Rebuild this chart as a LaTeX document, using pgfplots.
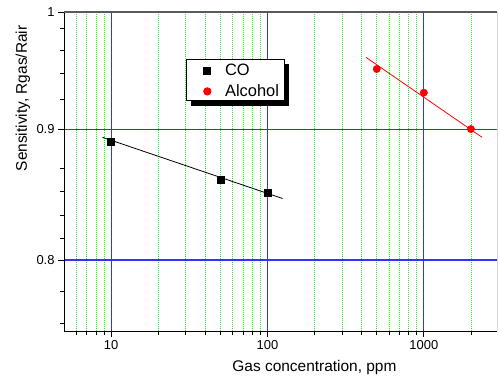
\documentclass[border=0pt]{standalone}
\usepackage{pgfplots}
\pgfplotsset{compat=1.18}
\usepackage{fontspec}
\setmainfont{Liberation Sans}
\usetikzlibrary{shadows}
\definecolor{gridblue}{RGB}{50,50,255}
\definecolor{gridgreen}{RGB}{40,230,40}
\pgfplotsset{mylegimg/.style={legend image code/.code={\draw[##1] plot coordinates {(0bp,5bp)};}}}
\begin{document}
\begin{tikzpicture}
\path[use as bounding box] (-64bp,-45bp) rectangle (434bp,331bp);
\begin{axis}[
  at={(0,0)}, anchor=south west,
  scale only axis, width=433.3bp, height=319bp,
  xmode=log, ymode=log,
  xmin=5, xmax=2950, ymin=0.7505, ymax=1,
  xtick={10,100,1000}, xticklabels={10,100,1000},
  ytick={0.8,0.9,1}, yticklabels={0.8,0.9,1},
  minor xtick={6,7,8,9,20,30,40,50,60,70,80,90,200,300,400,500,600,700,800,900,2000},
  minor ytick={0.756,0.778,0.816,0.833,0.851,0.869,0.924,0.946,0.966,0.985},
  xmajorgrids, xminorgrids, ymajorgrids,
  every major grid/.style={draw=gridblue, line width=1.1bp, solid},
  every minor grid/.style={draw=gridgreen, dash pattern=on 1bp off 1bp, line width=0.8bp},
  axis lines*=left,
  tick align=outside,
  major tick length=6bp, minor tick length=4bp,
  every tick/.style={draw=black, line width=0.8bp},
  axis line style={draw=black, line width=1bp, -},
  tick label style={font=\fontsize{13}{15}\selectfont},
  xlabel={Gas concentration, ppm},
  ylabel={Sensitivity, Rgas/Rair},
  label style={font=\fontsize{15.5}{18}\selectfont},
  xlabel style={at={(axis description cs:0.578,-0.115)}, anchor=center},
  ylabel style={at={(axis description cs:-0.095,0.729)}, anchor=center},
  legend style={at={(axis description cs:0.281,0.853)}, anchor=north west,
    draw=black, fill=white, line width=0.8bp,
    general shadow={fill=black, shadow xshift=5bp, shadow yshift=-5bp},
    font=\fontsize{16.5}{19}\selectfont,
    inner xsep=17.5bp, inner ysep=4.4bp, row sep=8.7bp, column sep=14bp,
    nodes={inner sep=0pt, text height=12bp, text depth=0bp, anchor=base west}},
  legend cell align=left,
]
\addplot[black, line width=0.8bp, forget plot] coordinates {(8.8,0.8934) (125,0.8455)};
\addplot[red, line width=0.8bp, forget plot] coordinates {(427,0.9600) (2355,0.8934)};
\addplot[only marks, mark=square*, mark size=3.5bp, black, mylegimg]
  coordinates {(10,0.890) (50,0.860) (100,0.850)};
\addlegendentry{CO\hspace*{-12bp}\mbox{}}
\addplot[only marks, mark=*, mark size=3.7bp, red, mark options={fill=red, draw=red}, mylegimg]
  coordinates {(500,0.950) (1000,0.930) (2000,0.900)};
\addlegendentry{Alcohol\hspace*{-12bp}\mbox{}}
\draw[black!65, line width=1.2bp] (rel axis cs:0,1) -- (rel axis cs:1,1);
\draw[black!45, line width=0.8bp] (rel axis cs:1,1) -- (rel axis cs:1,0);
\end{axis}
\end{tikzpicture}
\end{document}
